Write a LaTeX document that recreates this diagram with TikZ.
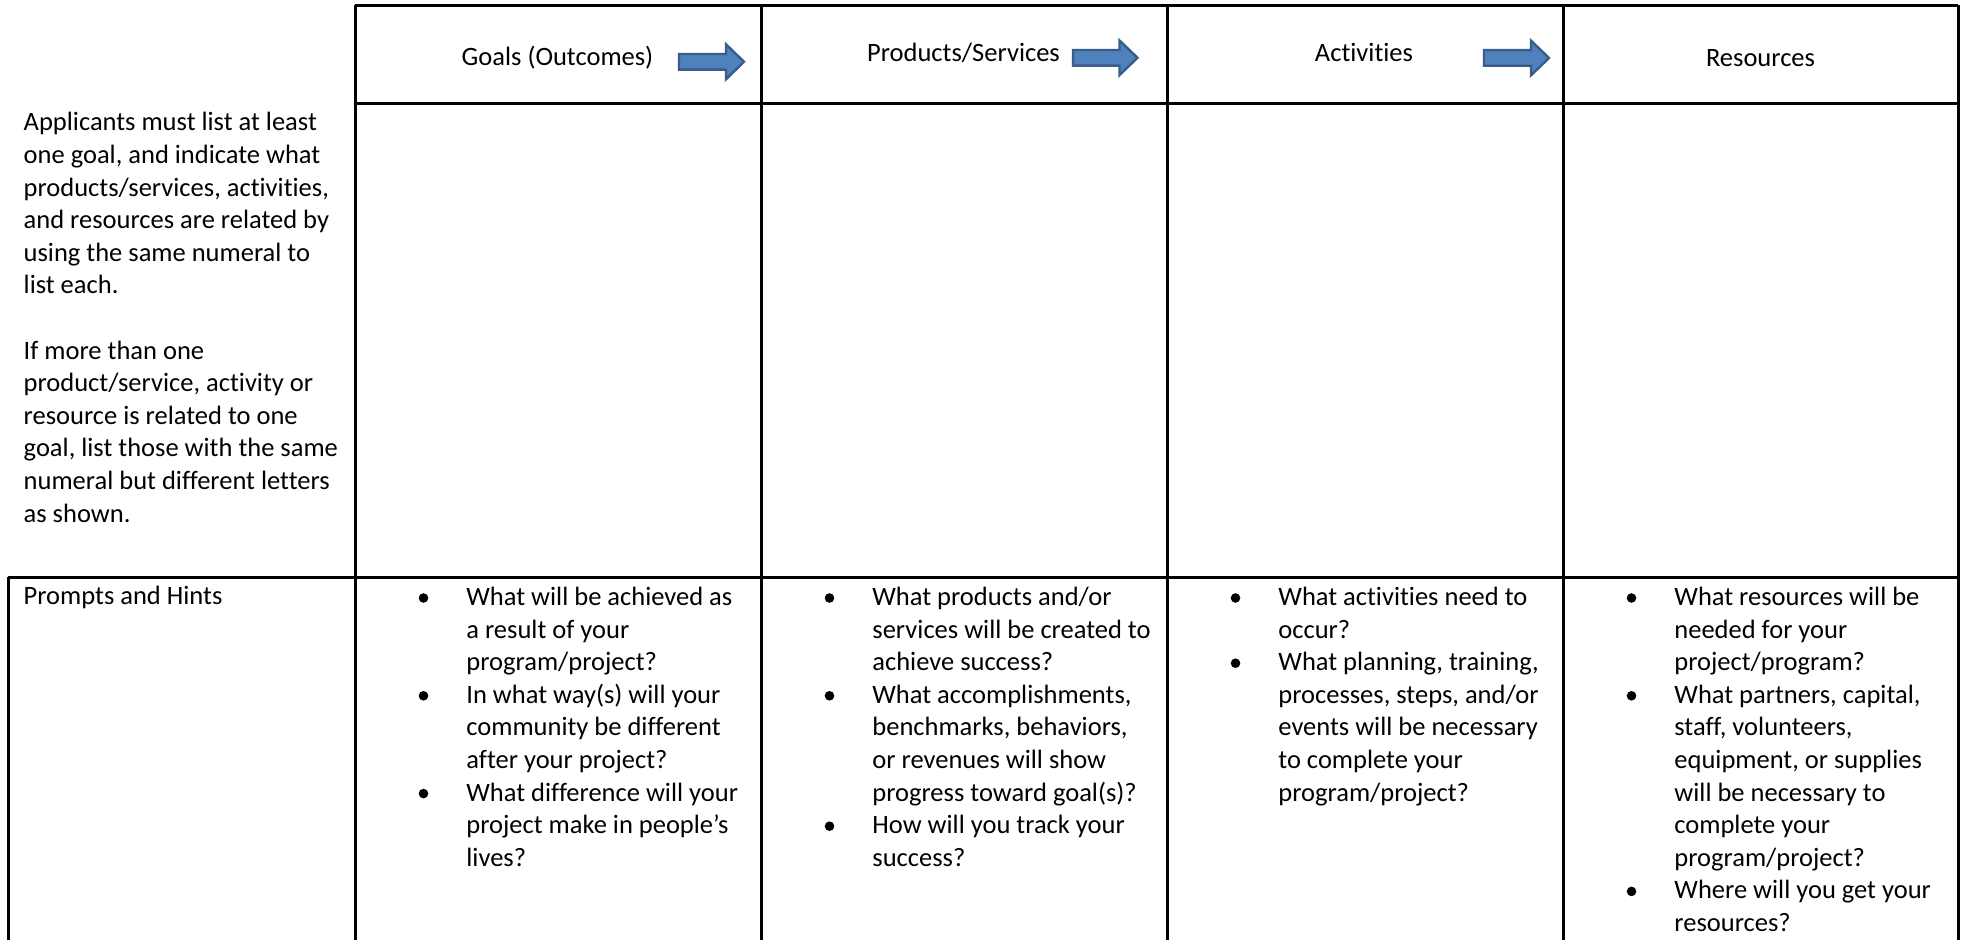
\documentclass[tikz,border=0pt]{standalone}
\usepackage{fontspec}
\setmainfont{Carlito}[Ligatures=NoCommon]
\definecolor{arrowfill}{HTML}{4F81BD}
\definecolor{arrowline}{HTML}{385D8A}
\newcommand\cellpar[1]{\parbox[t]{240pt}{\raggedright #1}}
\begin{document}
\begin{tikzpicture}[x=0.5pt,y=-0.5pt,
  grid/.style={line width=1.5pt, draw=black},
  bodytext/.style={anchor=base west, inner sep=0pt, font=\fontsize{13.25pt}{16.3pt}\selectfont},
  headtext/.style={anchor=base, inner sep=0pt, font=\fontsize{13.25pt}{16.3pt}\selectfont},
  blockarrow/.style={fill=arrowfill, draw=arrowline, line width=1.2pt, line join=miter},
  bulletdot/.style={circle, fill=black, draw=none, inner sep=0pt, minimum size=4.8pt}
]
\useasboundingbox (0,0) rectangle (1965,940);
\fill[white] (0,0) rectangle (1965,940);

% table lines
\draw[grid] (355,6) -- (1958,6);
\draw[grid] (355,104) -- (1958,104);
\draw[grid] (8,577.7) -- (1958,577.7);
\draw[grid] (355,5.25) -- (355,945);
\draw[grid] (761,5.25) -- (761,945);
\draw[grid] (1167,5.25) -- (1167,945);
\draw[grid] (1563,5.25) -- (1563,945);
\draw[grid] (1958,5.25) -- (1958,945);
\draw[grid] (8,576.95) -- (8,945);

% headers
\node[headtext] (hgoals) at (557.5,66) {Goals (Outcomes)};
\node[headtext] (hprod) at (963.5,62) {Products/Services};
\node[headtext] (hact) at (1364,62) {Activities};
\node[headtext] (hres) at (1760.5,66.5) {Resources};

% block arrows
\draw[blockarrow] (679,54) -- (726,54) -- (726,44.3) -- (744,61.8) -- (726,79.3) -- (726,69.6) -- (679,69.6) -- cycle;
\draw[blockarrow] (1073,50) -- (1119.5,50) -- (1119.5,40.5) -- (1137.5,57.8) -- (1119.5,75.1) -- (1119.5,65.6) -- (1073,65.6) -- cycle;
\draw[blockarrow] (1484,50.2) -- (1531,50.2) -- (1531,40.7) -- (1549,58) -- (1531,75.3) -- (1531,65.8) -- (1484,65.8) -- cycle;

% left explanation
\node[bodytext] (intro) at (23.3,131) {\cellpar{Applicants must list at least\\
one goal, and indicate what\\
products/services, activities,\\
and resources are related by\\
using the same numeral to\\
list each.\\[16.3pt]
If more than one\\
product/service, activity or\\
resource is related to one\\
goal, list those with the same\\
numeral but different letters\\
as shown.}};

\node[bodytext] (prompts) at (23.3,604) {Prompts and Hints};

% Goals column
\node[bulletdot] (gb1) at (423.5,598) {};
\node[bodytext] (g1) at (466,605.5) {\cellpar{What will be achieved as\\a result of your\\program/project?}};
\node[bulletdot] (gb2) at (423.5,695.8) {};
\node[bodytext] (g2) at (466,703.3) {\cellpar{In what way(s) will your\\community be different\\after your project?}};
\node[bulletdot] (gb3) at (423.5,793.6) {};
\node[bodytext] (g3) at (466,801.1) {\cellpar{What difference will your\\project make in people’s\\lives?}};

% Products column
\node[bulletdot] (pb1) at (829.5,598) {};
\node[bodytext] (p1) at (872,605.5) {\cellpar{What products and/or\\services will be created to\\achieve success?}};
\node[bulletdot] (pb2) at (829.5,695.8) {};
\node[bodytext] (p2) at (872,703.3) {\cellpar{What accomplishments,\\benchmarks, behaviors,\\or revenues will show\\progress toward goal(s)?}};
\node[bulletdot] (pb3) at (829.5,826.2) {};
\node[bodytext] (p3) at (872,833.7) {\cellpar{How will you track your\\success?}};

% Activities column
\node[bulletdot] (ab1) at (1235.5,598) {};
\node[bodytext] (a1) at (1278,605.5) {\cellpar{What activities need to\\occur?}};
\node[bulletdot] (ab2) at (1235.5,663.2) {};
\node[bodytext] (a2) at (1278,670.7) {\cellpar{What planning, training,\\processes, steps, and/or\\events will be necessary\\to complete your\\program/project?}};

% Resources column
\node[bulletdot] (rb1) at (1631.5,598) {};
\node[bodytext] (r1) at (1674,605.5) {\cellpar{What resources will be\\needed for your\\project/program?}};
\node[bulletdot] (rb2) at (1631.5,695.8) {};
\node[bodytext] (r2) at (1674,703.3) {\cellpar{What partners, capital,\\staff, volunteers,\\equipment, or supplies\\will be necessary to\\complete your\\program/project?}};
\node[bulletdot] (rb3) at (1631.5,891.4) {};
\node[bodytext] (r3) at (1674,898.9) {\cellpar{Where will you get your\\resources?}};
\end{tikzpicture}
\end{document}
